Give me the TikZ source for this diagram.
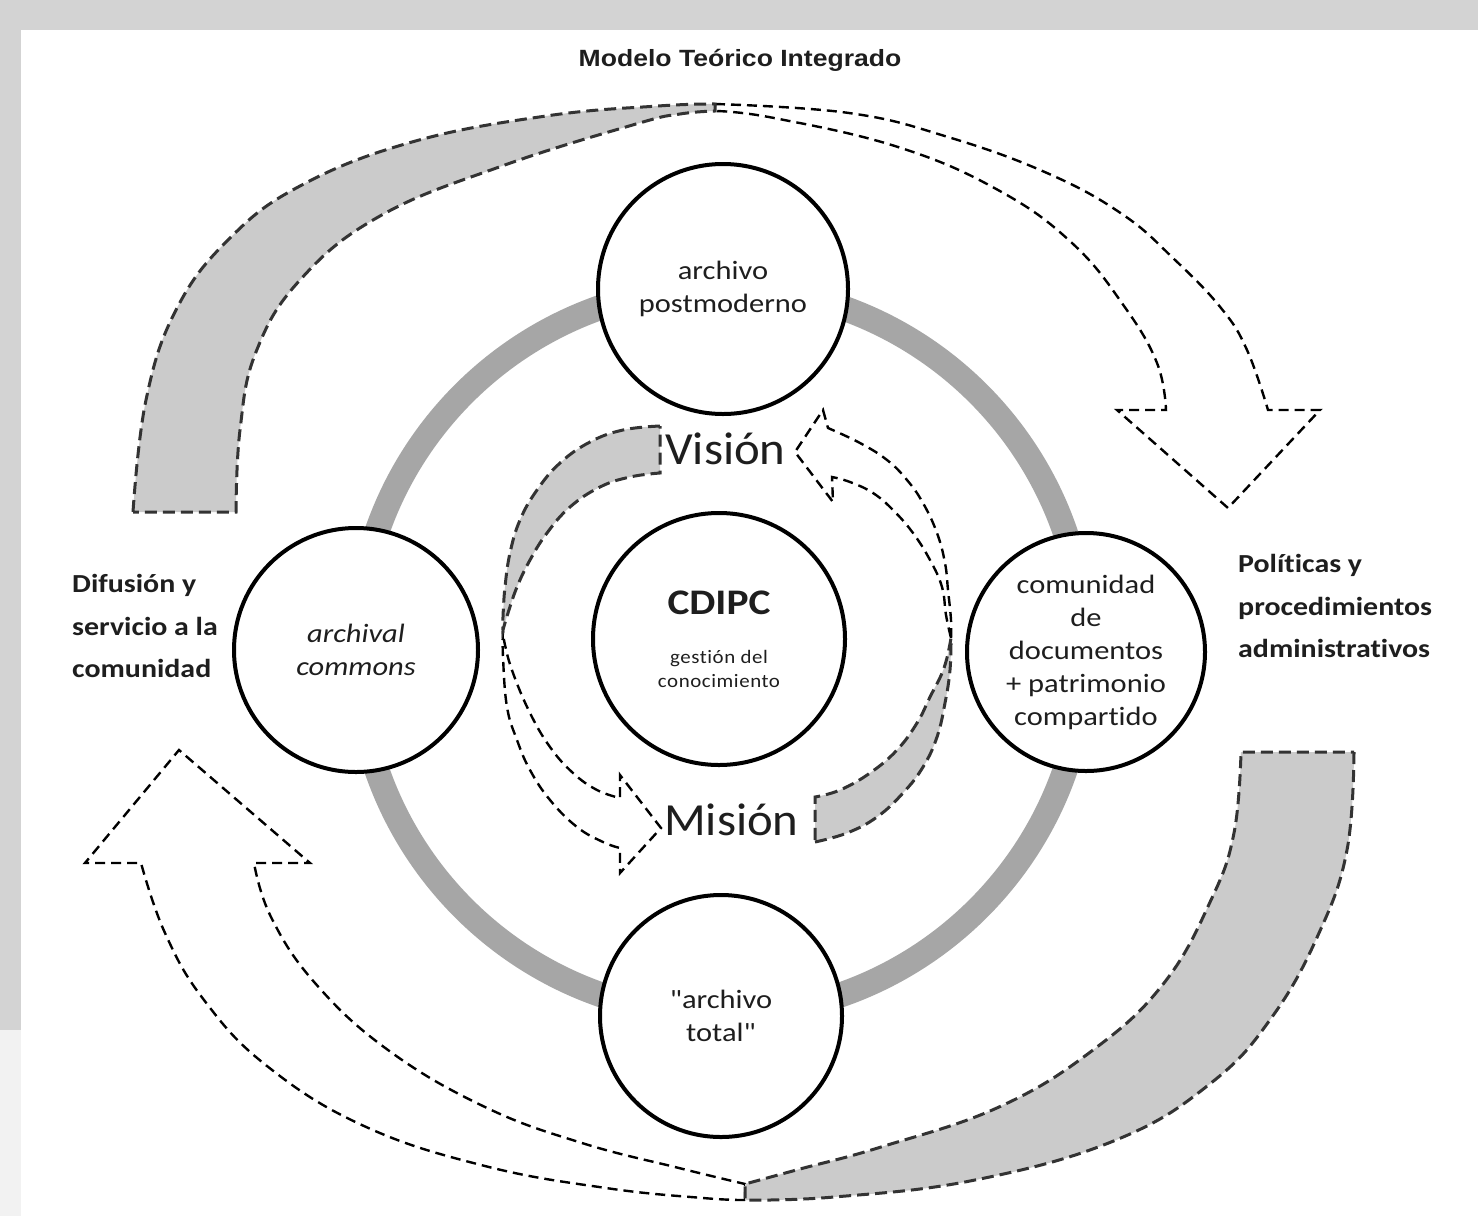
\documentclass[tikz,border=0pt]{standalone}
\usepackage{fontspec}
\setmainfont[Ligatures=NoCommon]{Carlito}
\newfontfamily\titlefont[FakeStretch=1.13]{Liberation Sans}
\newfontfamily\wfont[FakeStretch=1.15,Ligatures=NoCommon]{Carlito}
\newfontfamily\sfont[FakeStretch=1.1,LetterSpace=3,Ligatures=NoCommon]{Carlito}
\newfontfamily\vfont[FakeStretch=1.06,Ligatures=NoCommon]{Carlito}
\definecolor{ringgray}{HTML}{A6A6A6}
\definecolor{bandgray}{HTML}{CBCBCB}
\definecolor{bordergray}{HTML}{D3D3D3}
\definecolor{dashgray}{HTML}{333333}
\definecolor{txt}{HTML}{1E1E1E}
\begin{document}
\begin{tikzpicture}[x=1pt,y=-1pt,
  circ/.style={circle, draw=black, line width=4pt, fill=white, minimum size=#1, inner sep=0pt,
    align=center, text=txt, font=\wfont\fontsize{26.5}{32.5}\selectfont},
  grayhalf/.style={fill=bandgray, draw=dashgray, line width=3pt, dash pattern=on 12pt off 6pt},
  whitehalf/.style={fill=white, draw=black, line width=2.4pt, dash pattern=on 10pt off 6pt},
  lab/.style={align=left, inner sep=0pt, text=txt, font=\wfont\bfseries\fontsize{26}{42.5}\selectfont},
  big/.style={inner sep=0pt, text=txt, font=\vfont\fontsize{46}{50}\selectfont}]
\useasboundingbox (0,0) rectangle (1478,1216);
% background
\fill[bordergray] (0,0) rectangle (1478,1216);
\fill[gray!10] (0,1030) rectangle (21,1216);
\fill[white] (21,30) rectangle (1478,1216);

% ring
\coordinate (o) at (721,651);
\draw[ringgray, line width=25pt] (o) circle[radius=364pt];

% circles
\node[circ=250pt] (top) at (723,289) {archivo\\postmoderno};
\node[circ=244pt, font=\wfont\itshape\fontsize{26.5}{32.5}\selectfont] (left) at (356,650) {archival\\commons};
\node[circ=238pt, font=\wfont\fontsize{26.5}{33}\selectfont] (right) at (1086,652) {comunidad\\de\\documentos\\+ patrimonio\\compartido};
\node[circ=242pt] (bottom) at (721,1016) {"archivo\\total"};
\node[circ=252pt, font=\sfont\fontsize{19}{24}\selectfont] (center) at (719,639)
  {{\wfont\fontsize{36}{40}\selectfont\bfseries CDIPC}\\[25pt]gestión del\\conocimiento};

% inner left arrow (gray half then white half)
\path[whitehalf] plot[smooth, tension=0.7] coordinates {(503,630) (503,657) (507,707) (517,740) (530,770) (550,800) (577,827) (603,842) (620,848)}
  -- (620,873) -- (661,828) -- (620,775) -- (620,798)
  -- plot[smooth, tension=0.7] coordinates {(620,798) (597,790) (573,773) (550,747) (530,713) (513,673) (505,645) (503,630)} -- cycle;
\path[grayhalf] plot[smooth, tension=0.7] coordinates {(660,426) (623,430) (590,442) (560,463) (537,490) (520,520) (510,553) (505,587) (503,617) (503,630)}
  -- plot[smooth, tension=0.7] coordinates {(503,630) (508,613) (517,587) (530,560) (547,533) (570,507) (600,487) (630,477) (660,473)} -- cycle;

% inner right arrow
\path[whitehalf] plot[smooth, tension=0.7] coordinates {(951,638) (951,620) (948,590) (945,563) (937,533) (923,503) (907,480) (887,460) (860,443) (828,428)}
  -- (823,410) -- (795,452) -- (833,502) -- (832,477)
  -- plot[smooth, tension=0.7] coordinates {(832,477) (850,482) (873,493) (893,510) (913,533) (930,560) (942,587) (946,615) (951,638)} -- cycle;
\path[grayhalf] plot[smooth, tension=0.7] coordinates {(815,842) (847,833) (877,817) (903,793) (923,767) (937,737) (945,703) (950,670) (951,638)}
  -- plot[smooth, tension=0.7] coordinates {(951,638) (944,668) (930,697) (917,723) (897,750) (870,773) (840,790) (815,797)} -- cycle;

% outer top arrow
\path[whitehalf] plot[smooth, tension=0.7] coordinates {(715,104) (849,113) (948,137) (1047,173) (1122,214) (1174,259) (1221,308) (1247,350) (1268,410)}
  -- (1320,410) -- (1228,508) -- (1117,410) -- (1166,410)
  -- plot[smooth, tension=0.7] coordinates {(1166,410) (1157,363) (1124,306) (1072,243) (998,190) (898,147) (774,118) (715,111)} -- cycle;
\path[grayhalf] plot[smooth, tension=0.7] coordinates {(133,512) (146,400) (176,310) (228,240) (300,186) (412,142) (546,116) (658,106) (715,104)}
  -- plot[smooth, tension=0.7] coordinates {(715,111) (680,114) (636,124) (502,166) (380,216) (300,280) (256,352) (240,430) (236,512)} -- cycle;

% outer bottom arrow
\path[whitehalf] plot[smooth, tension=0.7] coordinates {(745,1200) (703,1198) (606,1188) (485,1166) (364,1126) (267,1066) (204,1000) (165,933) (141,863)}
  -- (85,863) -- (179,750) -- (310,863) -- (254,863)
  -- plot[smooth, tension=0.7] coordinates {(254,863) (271,917) (315,983) (388,1050) (485,1107) (582,1143) (679,1168) (745,1184)} -- cycle;
\path[grayhalf] plot[smooth, tension=0.7] coordinates {(1354,752) (1347,850) (1319,933) (1272,1017) (1211,1083) (1116,1140) (975,1180) (834,1197) (745,1200)}
  -- plot[smooth, tension=0.7] coordinates {(745,1184) (800,1169) (881,1147) (999,1107) (1093,1050) (1164,983) (1211,900) (1234,833) (1241,752)} -- cycle;

% texts
\node[anchor=base, inner sep=0pt, text=txt, font=\titlefont\bfseries\fontsize{23.5}{28}\selectfont] (title) at (740,66) {Modelo Teórico Integrado};
\node[big, anchor=base west] (vision) at (665,464) {Visión};
\node[big, anchor=base west] (mision) at (664,835) {Misión};
\node[lab, anchor=west] (difusion) at (72,626) {Difusión y\\servicio a la\\comunidad};
\node[lab, anchor=west] (politicas) at (1238,606) {Políticas y\\procedimientos\\administrativos};
\end{tikzpicture}
\end{document}
